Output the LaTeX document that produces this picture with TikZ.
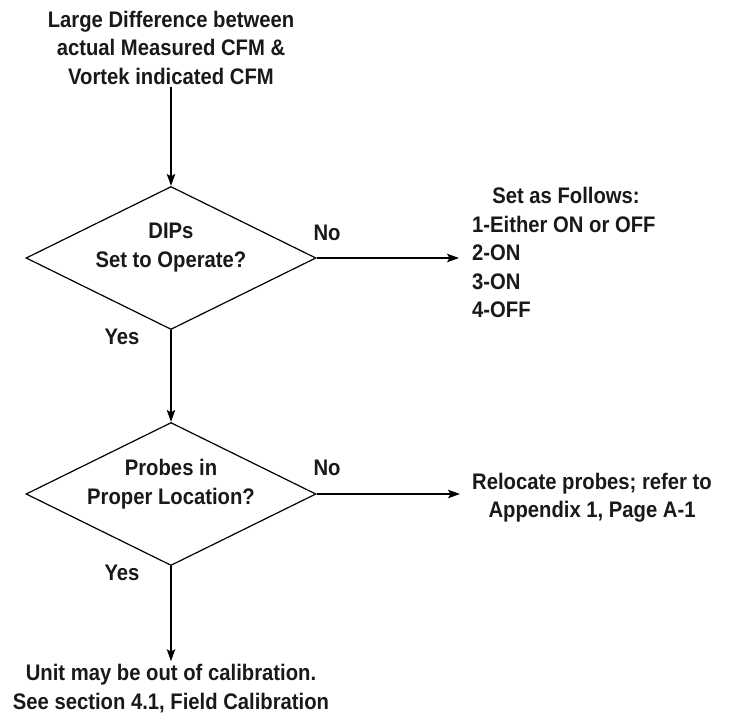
\documentclass[tikz,border=0pt]{standalone}
\usepackage{fontspec}
\newfontfamily\hfont{Liberation Sans}[FakeStretch=0.9]
\usetikzlibrary{shapes.geometric,arrows.meta}
\begin{document}
\begin{tikzpicture}[x=1pt,y=1pt,
  txt/.style={font=\hfont\bfseries\fontsize{22.5}{28.5}\selectfont, align=center, inner sep=3pt, text=black!90},
  decision/.style={diamond, draw, line width=1.2pt, minimum width=290pt, minimum height=143pt, inner sep=0pt, aspect=2.03},
  arr/.style={-{Stealth[length=12pt,width=8.5pt,inset=2.5pt]}, line width=1.2pt}]
\useasboundingbox (0,0) rectangle (733,-726);
\node[txt] (title) at (171,-47.5) {Large Difference between\\actual Measured CFM \&\\Vortek indicated CFM};
\node[decision] (d1) at (171,-258) {};
\node[txt] (d1t) at (171,-247.5) {DIPs\\Set to Operate?};
\node[txt] (no1) at (327,-233) {No};
\node[txt] (yes1) at (122,-337) {Yes};
\node[txt] (head) at (566,-195) {Set as Follows:};
\node[txt, align=left, anchor=west, inner sep=13pt] (list) at (459,-267) {1-Either ON or OFF\\2-ON\\3-ON\\4-OFF};
\node[decision] (d2) at (171,-494) {};
\node[txt] (d2t) at (171,-484) {Probes in\\Proper Location?};
\node[txt] (no2) at (327,-468) {No};
\node[txt] (yes2) at (122,-573) {Yes};
\node[txt, anchor=west, inner sep=0pt] (reloc) at (460,-497.5) {\hspace{12pt}\begin{tabular}{@{}c@{}}Relocate probes; refer to\\[-0.6pt]Appendix 1, Page A-1\end{tabular}};
\node[txt] (unit) at (171,-688.5) {Unit may be out of calibration.\\See section 4.1, Field Calibration};
\draw[arr] (title) -- (d1.north);
\draw[arr] (d1.south) -- (d2.north);
\draw[arr] (d1.east) -- (d1.east -| list.west);
\draw[arr] (d2.east) -- (d2.east -| reloc.west);
\draw[arr] (d2.south) -- (unit.north);
\end{tikzpicture}
\end{document}
